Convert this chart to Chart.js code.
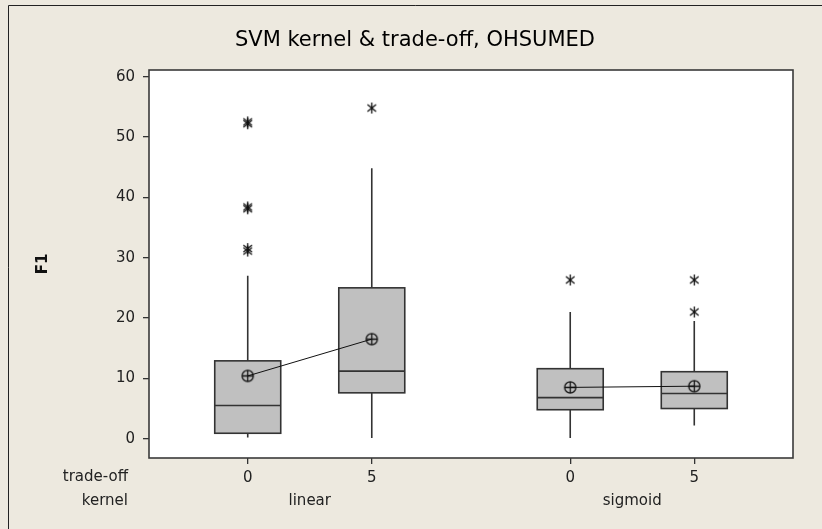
<!DOCTYPE html>
<html>
<head>
<meta charset="utf-8">
<script src="https://cdn.jsdelivr.net/npm/chart.js@4.4.1/dist/chart.umd.min.js"></script>
<style>
  html, body { margin: 0; padding: 0; background: #EDE9DF; }
  #wrap { width: 822px; height: 529px; }
</style>
</head>
<body>
<div id="wrap"><canvas id="boxChart"></canvas></div>
<script>
// Groups along the x axis
const kernels = ['linear', 'sigmoid'];
const tradeOffs = ['0', '5', '0', '5'];
const xPositions = [0, 1, 2.6, 3.6];

// Box statistics for F1, one entry per kernel / trade-off cell
const whiskerLow = [0.2, 0.1, 0.1, 2.2];
const q1 = [0.9, 7.6, 4.8, 5.0];
const median = [5.5, 11.2, 6.8, 7.5];
const q3 = [12.9, 25.0, 11.6, 11.1];
const whiskerHigh = [27.0, 44.8, 21.0, 19.5];
const means = [10.4, 16.5, 8.5, 8.7];
const outliers = [
  [31.1, 31.5, 38.1, 38.4, 52.2, 52.5],
  [54.8],
  [26.3],
  [21.0, 26.3]
];

const yTicks = [0, 10, 20, 30, 40, 50, 60];

const font = '"DejaVu Sans", Verdana, sans-serif';
const textColor = '#222';
const lineColor = '#333';
const boxHalfWidth = 0.266;

// Marker images
function makeMeanMarker() {
  const c = document.createElement('canvas');
  c.width = 15; c.height = 15;
  const g = c.getContext('2d');
  g.strokeStyle = '#111';
  g.lineWidth = 1.3;
  g.beginPath();
  g.arc(7.5, 7.5, 5.6, 0, Math.PI * 2);
  g.moveTo(1.9, 7.5); g.lineTo(13.1, 7.5);
  g.moveTo(7.5, 1.9); g.lineTo(7.5, 13.1);
  g.stroke();
  return c;
}

function makeOutlierMarker() {
  const c = document.createElement('canvas');
  c.width = 13; c.height = 13;
  const g = c.getContext('2d');
  g.strokeStyle = '#111';
  g.lineWidth = 1.3;
  g.beginPath();
  g.moveTo(6.5, 1); g.lineTo(6.5, 12);
  g.moveTo(2.2, 3); g.lineTo(10.8, 10);
  g.moveTo(10.8, 3); g.lineTo(2.2, 10);
  g.stroke();
  return c;
}

const meanMarker = makeMeanMarker();
const outlierMarker = makeOutlierMarker();

// Means are joined within each kernel group
const meanSets = kernels.map((k, gi) => ({
  label: 'mean ' + k,
  data: [0, 1].map(j => ({ x: xPositions[gi * 2 + j], y: means[gi * 2 + j] })),
  showLine: true,
  borderColor: '#111',
  borderWidth: 1,
  pointStyle: meanMarker,
  pointRadius: 7,
  order: 1
}));

const outlierPoints = [];
outliers.forEach((list, i) => list.forEach(v => outlierPoints.push({ x: xPositions[i], y: v })));

// Background, boxes, whiskers, frame and the two-row axis labels
const boxPlugin = {
  id: 'boxes',
  beforeDraw(chart) {
    const { ctx, chartArea: a } = chart;
    ctx.save();
    ctx.fillStyle = '#EDE9DF';
    ctx.fillRect(0, 0, chart.width, chart.height);
    ctx.fillStyle = '#fff';
    ctx.fillRect(a.left, a.top, a.right - a.left, a.bottom - a.top);
    // outer graph frame
    ctx.strokeStyle = '#222';
    ctx.lineWidth = 1;
    ctx.beginPath();
    ctx.moveTo(8.5, chart.height);
    ctx.lineTo(8.5, 5.5);
    ctx.lineTo(chart.width, 5.5);
    ctx.stroke();
    ctx.restore();
  },
  beforeDatasetsDraw(chart) {
    const { ctx } = chart;
    const xs = chart.scales.x, ys = chart.scales.y;
    ctx.save();
    ctx.strokeStyle = lineColor;
    ctx.lineWidth = 1.6;
    xPositions.forEach((xv, i) => {
      const cx = xs.getPixelForValue(xv);
      const l = xs.getPixelForValue(xv - boxHalfWidth);
      const r = xs.getPixelForValue(xv + boxHalfWidth);
      const yq1 = ys.getPixelForValue(q1[i]);
      const yq3 = ys.getPixelForValue(q3[i]);
      const ymed = ys.getPixelForValue(median[i]);
      ctx.beginPath();
      ctx.moveTo(cx, ys.getPixelForValue(whiskerLow[i]));
      ctx.lineTo(cx, yq1);
      ctx.moveTo(cx, yq3);
      ctx.lineTo(cx, ys.getPixelForValue(whiskerHigh[i]));
      ctx.stroke();
      ctx.fillStyle = '#C0C0C0';
      ctx.fillRect(l, yq3, r - l, yq1 - yq3);
      ctx.strokeRect(l, yq3, r - l, yq1 - yq3);
      ctx.beginPath();
      ctx.moveTo(l, ymed);
      ctx.lineTo(r, ymed);
      ctx.stroke();
    });
    ctx.restore();
  },
  afterDraw(chart) {
    const { ctx, chartArea: a } = chart;
    const xs = chart.scales.x;
    ctx.save();
    ctx.strokeStyle = '#3a3a3a';
    ctx.lineWidth = 1.6;
    ctx.strokeRect(a.left, a.top, a.right - a.left, a.bottom - a.top);
    // title
    ctx.fillStyle = '#000';
    ctx.font = '21px ' + font;
    ctx.textAlign = 'center';
    ctx.textBaseline = 'middle';
    ctx.fillText('SVM kernel & trade-off, OHSUMED', 415, 41);
    ctx.fillStyle = textColor;
    ctx.font = '15px ' + font;
    ctx.textAlign = 'right';
    ctx.fillText('trade-off', 128, 477);
    ctx.fillText('kernel', 128, 501);
    ctx.textAlign = 'center';
    kernels.forEach((k, gi) => {
      const mid = (xPositions[gi * 2] + xPositions[gi * 2 + 1]) / 2;
      ctx.fillText(k, xs.getPixelForValue(mid), 501);
    });
    ctx.restore();
  }
};

const ctx = document.getElementById('boxChart').getContext('2d');
new Chart(ctx, {
  type: 'scatter',
  data: {
    datasets: [
      ...meanSets,
      {
        label: 'outliers',
        data: outlierPoints,
        pointStyle: outlierMarker,
        pointRadius: 6,
        showLine: false,
        order: 0
      }
    ]
  },
  options: {
    responsive: true,
    maintainAspectRatio: false,
    animation: false,
    events: [],
    layout: { padding: { left: 0, right: 29, top: 70, bottom: 0 } },
    plugins: {
      legend: { display: false },
      tooltip: { enabled: false },
      title: { display: false }
    },
    scales: {
      x: {
        type: 'linear',
        min: -0.796,
        max: 4.396,
        afterFit(scale) { scale.height = 71; },
        afterBuildTicks(scale) { scale.ticks = xPositions.map(v => ({ value: v })); },
        ticks: {
          color: textColor,
          font: { family: font, size: 15 },
          padding: 5,
          maxRotation: 0,
          callback: (v, i) => tradeOffs[i]
        },
        grid: { drawOnChartArea: false, drawTicks: true, tickLength: 6, color: lineColor, lineWidth: 1.3 },
        border: { display: false }
      },
      y: {
        type: 'linear',
        min: -3.2,
        max: 61.1,
        afterFit(scale) { scale.width = 149; },
        afterBuildTicks(scale) { scale.ticks = yTicks.map(v => ({ value: v })); },
        ticks: {
          color: textColor,
          font: { family: font, size: 15 },
          padding: 8
        },
        grid: { drawOnChartArea: false, drawTicks: true, tickLength: 6, color: lineColor, lineWidth: 1.3 },
        border: { display: false },
        title: {
          display: true,
          text: 'F1',
          color: '#111',
          font: { family: font, size: 15, weight: 'bold', lineHeight: 1.2 },
          padding: { top: 34.5, bottom: 0 }
        }
      }
    }
  },
  plugins: [boxPlugin]
});
</script>
</body>
</html>
